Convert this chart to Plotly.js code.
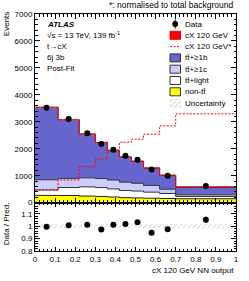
<!DOCTYPE html>
<html><head><meta charset="utf-8">
<script src="https://cdn.plot.ly/plotly-3.0.1.min.js"></script>
<style>html,body{margin:0;padding:0;background:#fff}#chart{width:249px;height:281px}</style>
</head><body><div id="chart"></div>
<script>
// ---- data ----
const binEdges   = [0, 0.115, 0.22, 0.30, 0.36, 0.42, 0.48, 0.54, 0.62, 0.70, 1.0];
const nonTT      = [270, 265, 245, 230, 210, 185, 175, 165, 155, 145];
const ttLight    = [200, 295, 340, 330, 300, 265, 255, 225, 185, 85];
const ttC        = [380, 340, 335, 335, 330, 310, 290, 250, 160, 60];
const ttB        = [2688, 2177, 1625, 1337, 1088, 931, 808, 637, 504, 276];
const signal     = [2, 3, 5, 8, 12, 15, 18, 20, 22, 25];
const signalNorm = [468, 840, 1335, 1620, 1955, 2241, 2353, 2539, 2848, 3294];
const dataVals   = [3522, 3105, 2578, 2180, 1961, 1738, 1595, 1228, 1001, 622];
const dataErr    = [25, 28, 28, 25, 25, 24, 22, 20, 18, 15];
const uncRel     = [0.016, 0.016, 0.016, 0.016, 0.016, 0.016, 0.016, 0.017, 0.018, 0.018];
const legendLabels = ['Data', 'cX 120 GeV', 'cX 120 GeV*', 'tt\u0304+\u22651b', 'tt\u0304+\u22651c', 'tt\u0304+light', 'non-tt\u0304', 'Uncertainty'];
const infoLines = ['<b><i>ATLAS</i></b>', '\u221As = 13 TeV, 139 fb<sup>-1</sup>', 't\u2192cX', '6j 3b', 'Post-Fit'];

// ---- helpers ----
const FONT = 'Liberation Sans, Arial, Helvetica, sans-serif';
const step = v => v.concat([v[v.length - 1]]);
const centers = binEdges.slice(0, -1).map((e, i) => (e + binEdges[i + 1]) / 2);
const total = nonTT.map((v, i) => v + ttLight[i] + ttC[i] + ttB[i] + signal[i]);
const uncLo = total.map((t, i) => t * (1 - uncRel[i]));
const uncHi = total.map((t, i) => t * (1 + uncRel[i]));
const ratio = dataVals.map((d, i) => d / total[i]);
const ratioErr = dataErr.map((e, i) => e / total[i]);
const bandLo = uncRel.map(u => 1 - u);
const bandHi = uncRel.map(u => 1 + u);

const PL = 35, PR = 236, PT = 14, PB = 251;
const split = 202.65;
const px = p => (p - PL) / (PR - PL);
const py = p => (PB - p) / (PB - PT);
const mainY = p => (split - p) / (split - PT) * 7000;

const lineCol = '#333';
const stackTr = (y, fill, lc) => ({
  x: binEdges, y: step(y), type: 'scatter', mode: 'lines', stackgroup: 'bkg',
  line: {shape: 'hv', color: lc, width: 1}, fillcolor: fill, hoverinfo: 'skip'
});
const hatch = {shape: '/', fgcolor: '#b0b0b0', bgcolor: 'rgba(0,0,0,0)', size: 3.5, solidity: 0.2};

const traces = [
  stackTr(nonTT, '#ffff00', '#222'),
  stackTr(ttLight, '#ffffff', lineCol),
  stackTr(ttC, '#ccccff', lineCol),
  stackTr(ttB, '#6666cc', lineCol),
  stackTr(signal, '#ff0000', '#ff0000'),
  {x: binEdges, y: step(uncLo), type: 'scatter', mode: 'lines', line: {shape: 'hv', width: 0}, hoverinfo: 'skip'},
  {x: binEdges, y: step(uncHi), type: 'scatter', mode: 'lines', line: {shape: 'hv', width: 0}, fill: 'tonexty',
   fillcolor: 'rgba(0,0,0,0)', fillpattern: hatch, hoverinfo: 'skip'},
  {x: binEdges, y: step(signalNorm), type: 'scatter', mode: 'lines',
   line: {shape: 'hv', color: '#ff0000', width: 1, dash: '2px,1.5px'}},
  {x: centers, y: dataVals, type: 'scatter', mode: 'markers', marker: {color: '#000', size: 6},
   error_y: {type: 'data', array: dataErr, visible: true, color: '#000', thickness: 1, width: 0}},
  // ratio panel
  {x: binEdges, y: step(bandLo), xaxis: 'x2', yaxis: 'y2', type: 'scatter', mode: 'lines', line: {shape: 'hv', width: 0}},
  {x: binEdges, y: step(bandHi), xaxis: 'x2', yaxis: 'y2', type: 'scatter', mode: 'lines', line: {shape: 'hv', width: 0},
   fill: 'tonexty', fillcolor: 'rgba(0,0,0,0)', fillpattern: hatch},
  {x: centers, y: ratio, xaxis: 'x2', yaxis: 'y2', type: 'scatter', mode: 'markers', marker: {color: '#000', size: 6},
   error_y: {type: 'data', array: ratioErr, visible: true, color: '#000', thickness: 1, width: 0}},
  // legend hatch box for "Uncertainty"
  {x: [px(170), px(180.5), px(180.5), px(170), px(170)],
   y: [mainY(99), mainY(99), mainY(107), mainY(107), mainY(99)],
   type: 'scatter', mode: 'lines', line: {width: 0}, fill: 'toself', fillcolor: 'rgba(0,0,0,0)', fillpattern: hatch}
];

// ---- legend (drawn by hand to match row spacing) ----
const legY0 = 24, legDy = 11.3, bx0 = 170, bx1 = 180.5, tx = 182.5;
const shapes = [];
const annotations = [];
legendLabels.forEach((lab, i) => {
  const yc = legY0 + legDy * i;
  annotations.push({xref: 'paper', yref: 'paper', x: px(tx), y: py(yc), xanchor: 'left', yanchor: 'middle',
    text: lab, showarrow: false, font: {family: FONT, size: 8, color: '#000'}});
  const box = (fill, lc) => shapes.push({type: 'rect', xref: 'paper', yref: 'paper',
    x0: px(bx0), x1: px(bx1), y0: py(yc - 4), y1: py(yc + 4), fillcolor: fill, line: {color: lc, width: 1}});
  if (i === 0) {
    shapes.push({type: 'circle', xref: 'paper', yref: 'paper', x0: px(172.3), x1: px(178.1), y0: py(yc - 2.9), y1: py(yc + 2.9),
      fillcolor: '#000', line: {color: '#000', width: 0}});
    shapes.push({type: 'line', xref: 'paper', yref: 'paper', x0: px(175.2), x1: px(175.2), y0: py(yc - 4.5), y1: py(yc + 4.5),
      line: {color: '#000', width: 1}});
  } else if (i === 1) box('#ff0000', '#ff0000');
  else if (i === 2) shapes.push({type: 'line', xref: 'paper', yref: 'paper', x0: px(bx0), x1: px(bx1), y0: py(yc), y1: py(yc),
      line: {color: '#ff0000', width: 1, dash: '2px,1.5px'}});
  else if (i === 3) box('#6666cc', lineCol);
  else if (i === 4) box('#ccccff', lineCol);
  else if (i === 5) box('#ffffff', lineCol);
  else if (i === 6) box('#ffff00', lineCol);
  else if (i === 7) shapes.push({type: 'rect', xref: 'paper', yref: 'paper',
    x0: px(bx0), x1: px(bx1), y0: py(yc - 4), y1: py(yc + 4), line: {color: '#dddddd', width: 0.5}});
});

infoLines.forEach((t, i) => {
  annotations.push({xref: 'paper', yref: 'paper', x: px(45), y: py(24 + 11.2 * i), xanchor: 'left', yanchor: 'middle',
    text: t, showarrow: false, font: {family: FONT, size: 8, color: '#000'}});
});
annotations.push({xref: 'paper', yref: 'paper', x: px(236), y: py(5), xanchor: 'right', yanchor: 'middle',
  text: '*: normalised to total background', showarrow: false, font: {family: FONT, size: 8.5, color: '#000'}});
annotations.push({xref: 'paper', yref: 'paper', x: px(6), y: py(24.2), xanchor: 'center', yanchor: 'middle', textangle: -90,
  text: 'Events', showarrow: false, font: {family: FONT, size: 8, color: '#000'}});
annotations.push({xref: 'paper', yref: 'paper', x: px(6.3), y: py(224), xanchor: 'center', yanchor: 'middle', textangle: -90,
  text: 'Data / Pred.', showarrow: false, font: {family: FONT, size: 8, color: '#000'}});
annotations.push({xref: 'paper', yref: 'paper', x: px(236), y: py(270), xanchor: 'right', yanchor: 'middle',
  text: 'cX 120 GeV NN output', showarrow: false, font: {family: FONT, size: 8, color: '#000'}});

const axBase = {showline: true, linecolor: '#000', linewidth: 1, mirror: 'allticks', showgrid: false, zeroline: false,
  ticks: 'inside', tickcolor: '#000', tickwidth: 1, fixedrange: true, tickfont: {family: FONT, size: 8, color: '#000'}};
const dom = (PB - split) / (PB - PT);
const layout = {
  width: 249, height: 281, margin: {l: PL, r: 249 - PR, t: PT, b: 281 - PB, pad: 0},
  showlegend: false, paper_bgcolor: '#fff', plot_bgcolor: '#fff',
  font: {family: FONT, size: 8, color: '#000'},
  xaxis: Object.assign({}, axBase, {anchor: 'y', domain: [0, 1], range: [0, 1], dtick: 0.1, tick0: 0, ticklen: 5,
    showticklabels: false, minor: {dtick: 0.02, ticklen: 2.5, ticks: 'inside', tickcolor: '#000'}}),
  yaxis: Object.assign({}, axBase, {anchor: 'x', domain: [dom, 1], range: [0, 7000], dtick: 1000, tick0: 0, ticklen: 5,
    minor: {dtick: 200, ticklen: 2.5, ticks: 'inside', tickcolor: '#000'}}),
  xaxis2: Object.assign({}, axBase, {anchor: 'y2', domain: [0, 1], range: [0, 1], dtick: 0.1, tick0: 0, ticklen: 4,
    minor: {dtick: 0.02, ticklen: 2, ticks: 'inside', tickcolor: '#000'}}),
  yaxis2: Object.assign({}, axBase, {anchor: 'x2', domain: [0, dom], range: [0.8, 1.19], dtick: 0.1, tick0: 0.8, ticklen: 5,
    minor: {dtick: 0.02, ticklen: 2.5, ticks: 'inside', tickcolor: '#000'}}),
  shapes: shapes, annotations: annotations
};
Plotly.newPlot('chart', traces, layout, {staticPlot: true, displayModeBar: false});
</script></body></html>
